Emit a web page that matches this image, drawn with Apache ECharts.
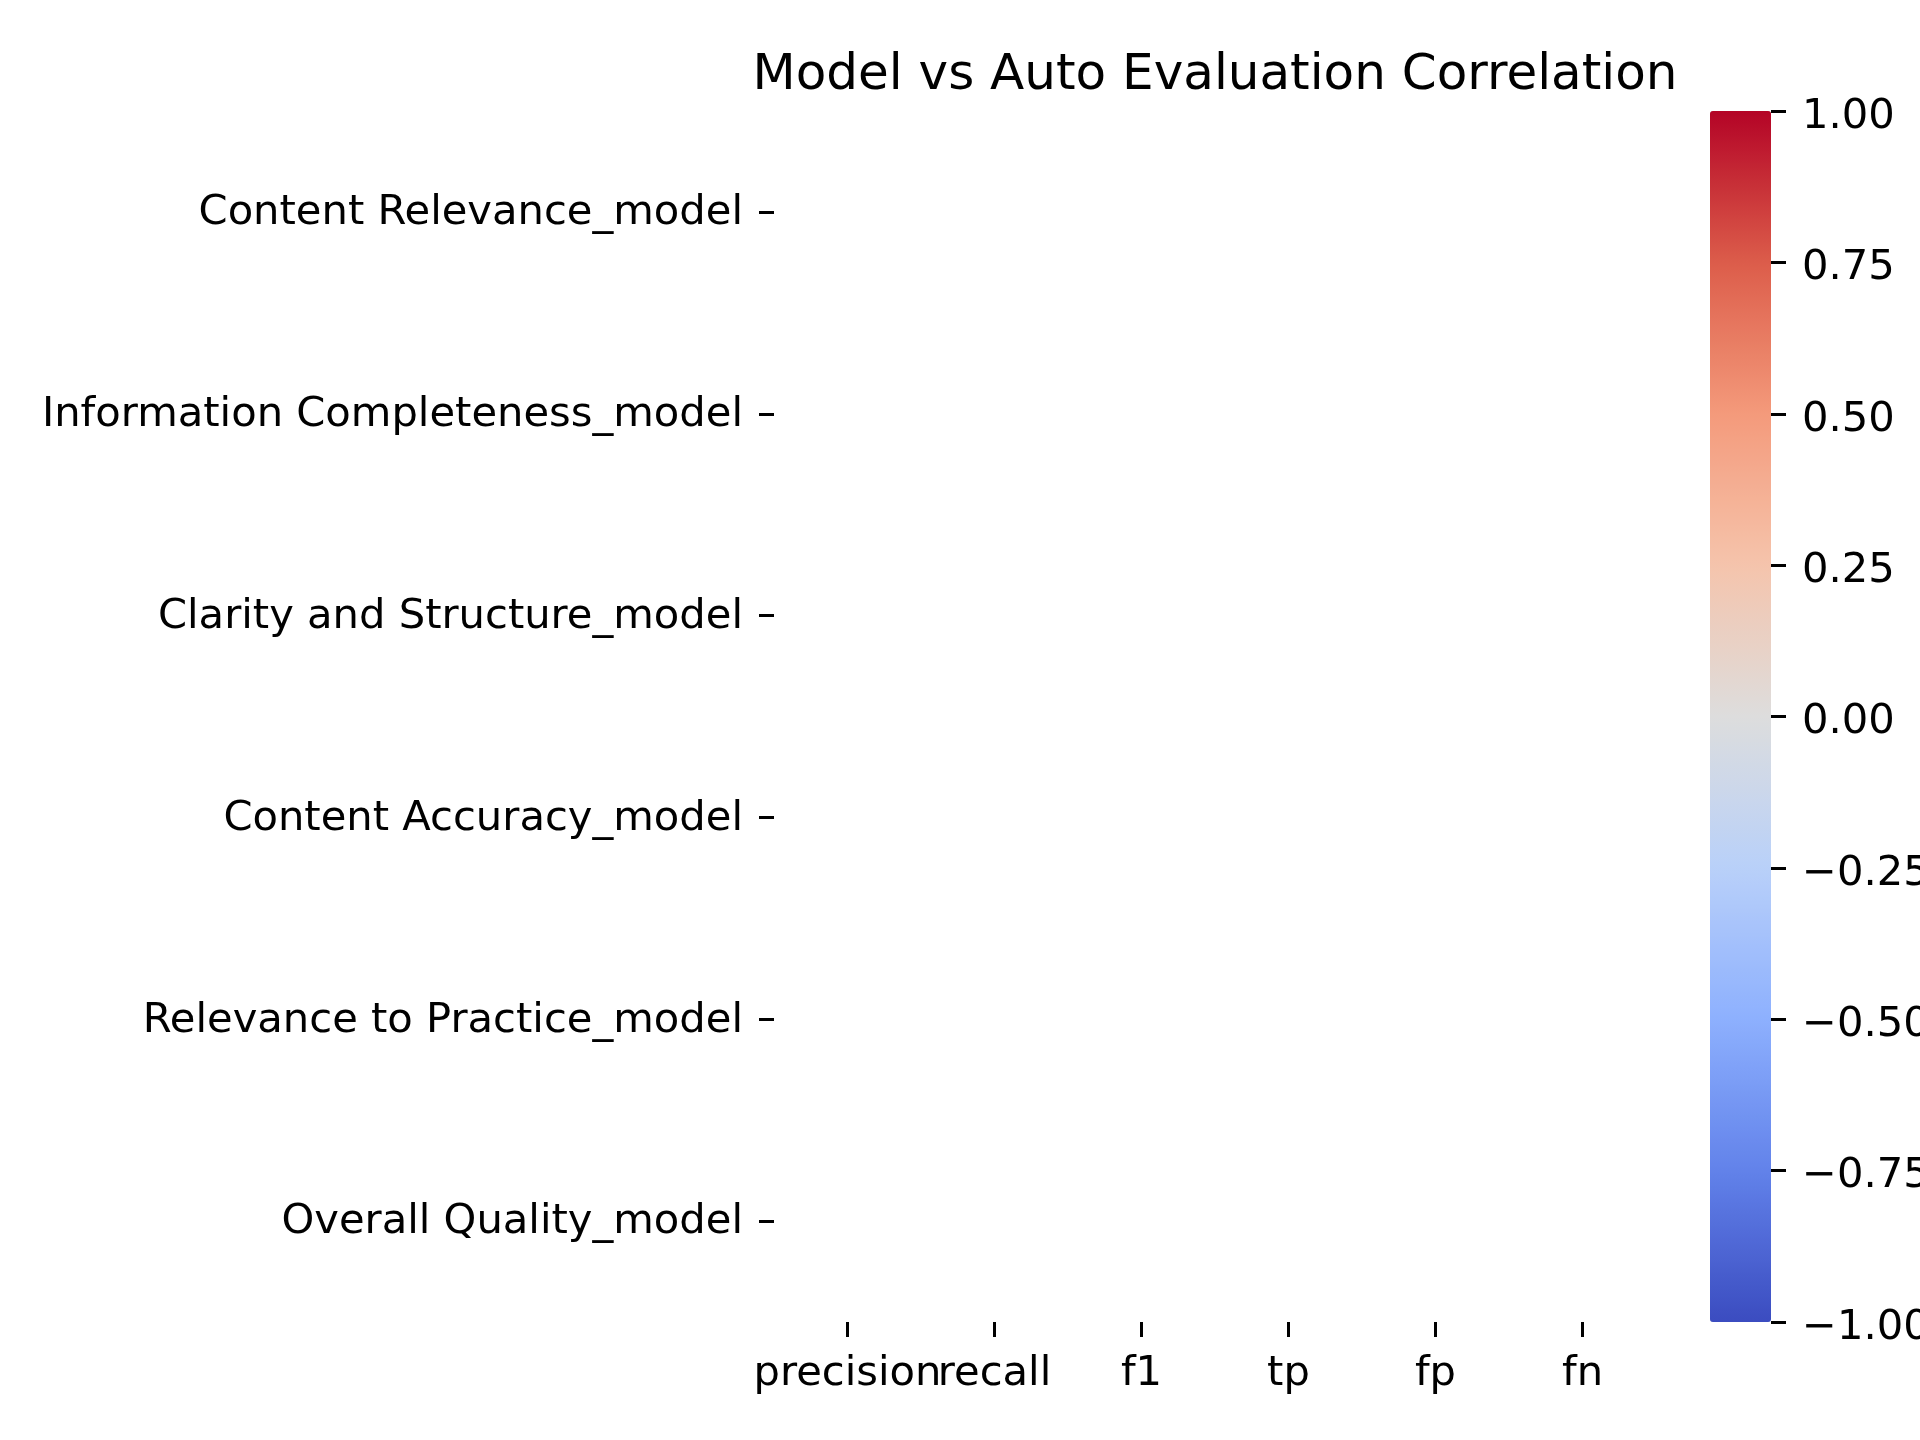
<!DOCTYPE html>
<html>
<head>
<meta charset="utf-8">
<script src="https://cdn.jsdelivr.net/npm/echarts@6/dist/echarts.min.js"></script>
<style>html,body{margin:0;padding:0;background:#fff}#c{width:1920px;height:1440px}</style>
</head>
<body>
<div id="c"></div>
<script>
const titleText = 'Model vs Auto Evaluation Correlation';
const xCategories = ['precision', 'recall', 'f1', 'tp', 'fp', 'fn'];
const yCategories = ['Content Relevance_model', 'Information Completeness_model', 'Clarity and Structure_model', 'Content Accuracy_model', 'Relevance to Practice_model', 'Overall Quality_model'];
// All correlations are undefined (NaN) in the reference: every cell is blank
const corrValues = [
  [null, null, null, null, null, null],
  [null, null, null, null, null, null],
  [null, null, null, null, null, null],
  [null, null, null, null, null, null],
  [null, null, null, null, null, null],
  [null, null, null, null, null, null]
];
const colorbarMin = -1;
const colorbarMax = 1;
const colorbarStep = 0.25;
const coolwarm = ['#3b4cc0', '#6282ea', '#8db0fe', '#b9d0f9', '#dddddd', '#f5c4ac', '#f49a7b', '#dc5d4a', '#b40426'];

const heatData = [];
corrValues.forEach((row, yi) => row.forEach((v, xi) => heatData.push([xi, yi, v === null ? '-' : v])));

const FONT = 'DejaVu Sans';
const FS = 41.67;
const chart = echarts.init(document.getElementById('c'), null, {renderer: 'canvas'});
chart.setOption({
  backgroundColor: '#ffffff',
  animation: false,
  textStyle: {fontFamily: FONT},
  title: {
    text: titleText,
    left: 1215, top: 51, textAlign: 'center', padding: 0,
    textStyle: {fontFamily: FONT, fontSize: 50, fontWeight: 'normal', color: '#000'}
  },
  grid: [
    {left: 774, top: 111, width: 882, height: 1211, containLabel: false, outerBoundsMode: 'none'},
    {left: 1710, top: 111, width: 61, height: 1211, containLabel: false, outerBoundsMode: 'none'}
  ],
  xAxis: [
    {
      type: 'category', data: xCategories, gridIndex: 0,
      axisLine: {show: false},
      axisTick: {show: true, alignWithLabel: true, length: 15, lineStyle: {color: '#000', width: 3}},
      axisLabel: {margin: 31, fontFamily: FONT, fontSize: FS, color: '#000', interval: 0},
      splitLine: {show: false}, splitArea: {show: false}
    },
    {type: 'value', gridIndex: 1, show: false, min: 0, max: 1}
  ],
  yAxis: [
    {
      type: 'category', data: yCategories, gridIndex: 0, inverse: true,
      axisLine: {show: false},
      axisTick: {show: true, alignWithLabel: true, length: 15, lineStyle: {color: '#000', width: 3}},
      axisLabel: {
        margin: 31, fontFamily: FONT, fontSize: FS, color: '#000', interval: 0,
        formatter: v => '{a|' + v + '}',
        rich: {a: {fontFamily: FONT, fontSize: FS, color: '#000', padding: [3, 0, 0, 0]}}
      },
      splitLine: {show: false}, splitArea: {show: false}
    },
    {
      type: 'value', gridIndex: 1, position: 'right',
      min: colorbarMin, max: colorbarMax, interval: colorbarStep,
      axisLine: {show: false, onZero: false},
      axisTick: {show: true, inside: false, length: 15, lineStyle: {color: '#000', width: 3}},
      axisLabel: {
        margin: 31, fontFamily: FONT, fontSize: FS, color: '#000',
        formatter: v => '{a|' + (v < 0 ? '\u2212' : '') + Math.abs(v).toFixed(2) + '}',
        rich: {a: {fontFamily: FONT, fontSize: FS, color: '#000', padding: [12, 0, 0, 0]}}
      },
      splitLine: {show: false}
    }
  ],
  visualMap: {
    type: 'continuous', min: colorbarMin, max: colorbarMax,
    seriesIndex: 0, calculable: false, realtime: false,
    orient: 'vertical', left: 1710, top: 111, padding: 0,
    itemWidth: 61, itemHeight: 1211, text: null, showLabel: false,
    inRange: {color: coolwarm}
  },
  series: [{
    type: 'heatmap', xAxisIndex: 0, yAxisIndex: 0,
    data: heatData,
    itemStyle: {borderColor: '#fff', borderWidth: 0}
  }]
});
</script>
</body>
</html>
